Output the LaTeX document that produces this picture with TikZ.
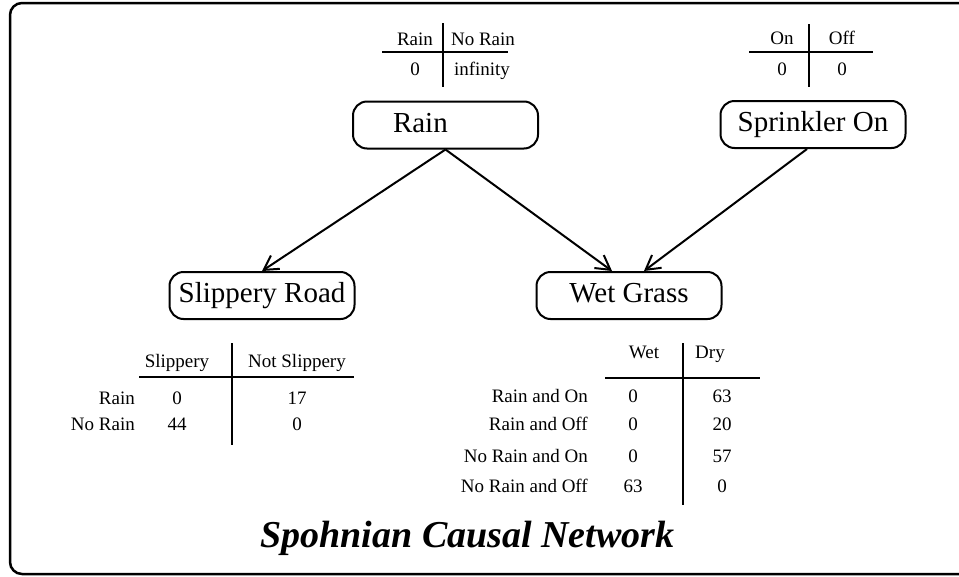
\documentclass[tikz,border=0pt]{standalone}
\usepackage{fontspec}
\setmainfont{Liberation Serif}
\usetikzlibrary{arrows.meta}

\tikzset{
  varbox/.style={draw, line width=2pt, rounded corners=14pt, minimum width=185pt, minimum height=47pt,
    inner sep=0pt, text height=20pt, text depth=6pt, font=\fontsize{29}{34}\selectfont},
  cell/.style={inner sep=0pt, anchor=base, font=\fontsize{19}{22}\selectfont},
  rowlabel/.style={cell, anchor=base east},
  cause/.style={line width=2pt, -{Straight Barb[length=14pt,width=16pt,line width=2pt]}},
  rule/.style={line width=2pt}
}

\begin{document}
\begin{tikzpicture}[x=1pt,y=-1pt]
\clip (0,0) rectangle (959,576);
% frame, runs off the right edge
\draw[line width=2.5pt, rounded corners=12pt] (10,3) rectangle (990,574);

% variables
\node [varbox, text width=105pt, inner xsep=40pt, align=left] (rain) at (445.5,125) {Rain};
\node [varbox] (sprinkler) at (813,124.5) {Sprinkler On};
\node [varbox] (slippery) at (262,295.5) {Slippery Road};
\node [varbox] (wet) at (629,295.5) {Wet Grass};

\draw[cause] (rain.south) -- (slippery.north);
\draw[cause] (rain.south) -- ([xshift=-17pt]wet.north);
\draw[cause] ([xshift=-6pt]sprinkler.south) -- ([xshift=15pt]wet.north);

% rain prior
\draw[rule] (443,23) -- (443,87);
\draw[rule] (382,52) -- (508,52);
\node [cell] (rainyes) at (415,45) {Rain};
\node [cell] (rainno) at (483,45) {No Rain};
\node [cell] (rainyesval) at (415,75) {0};
\node [cell] (rainnoval) at (482,75) {infinity};

% sprinkler prior
\draw[rule] (809,24) -- (809,87);
\draw[rule] (749,52) -- (873,52);
\node [cell] (spron) at (782,44) {On};
\node [cell] (sproff) at (842,44) {Off};
\node [cell] (spronval) at (782,75) {0};
\node [cell] (sproffval) at (842,75) {0};

% slippery road table
\draw[rule] (232,343) -- (232,445);
\draw[rule] (139,377) -- (354,377);
\node [cell] (slyes) at (177,367) {Slippery};
\node [cell] (slno) at (297,367) {Not Slippery};
\node [rowlabel] (slrow1) at (135,404) {Rain};
\node [rowlabel] (slrow2) at (135,430) {No Rain};
\node [cell] (sl11) at (177,404) {0};
\node [cell] (sl12) at (297,404) {17};
\node [cell] (sl21) at (177,430) {44};
\node [cell] (sl22) at (297,430) {0};

% wet grass table
\draw[rule] (683,343) -- (683,505);
\draw[rule] (605,378) -- (760,378);
\node [cell] (wetyes) at (644,358) {Wet};
\node [cell] (wetno) at (710,358) {Dry};
\node [rowlabel] (wrow1) at (588,402) {Rain and On};
\node [rowlabel] (wrow2) at (588,430) {Rain and Off};
\node [rowlabel] (wrow3) at (588,462) {No Rain and On};
\node [rowlabel] (wrow4) at (588,492) {No Rain and Off};
\node [cell] (w11) at (633,402) {0};
\node [cell] (w12) at (722,402) {63};
\node [cell] (w21) at (633,430) {0};
\node [cell] (w22) at (722,430) {20};
\node [cell] (w31) at (633,462) {0};
\node [cell] (w32) at (722,462) {57};
\node [cell] (w41) at (633,492) {63};
\node [cell] (w42) at (722,492) {0};

\node [anchor=base, inner sep=0pt, font=\fontsize{38}{44}\selectfont\bfseries\itshape] (title) at (467.5,547) {Spohnian Causal Network};
\end{tikzpicture}
\end{document}
